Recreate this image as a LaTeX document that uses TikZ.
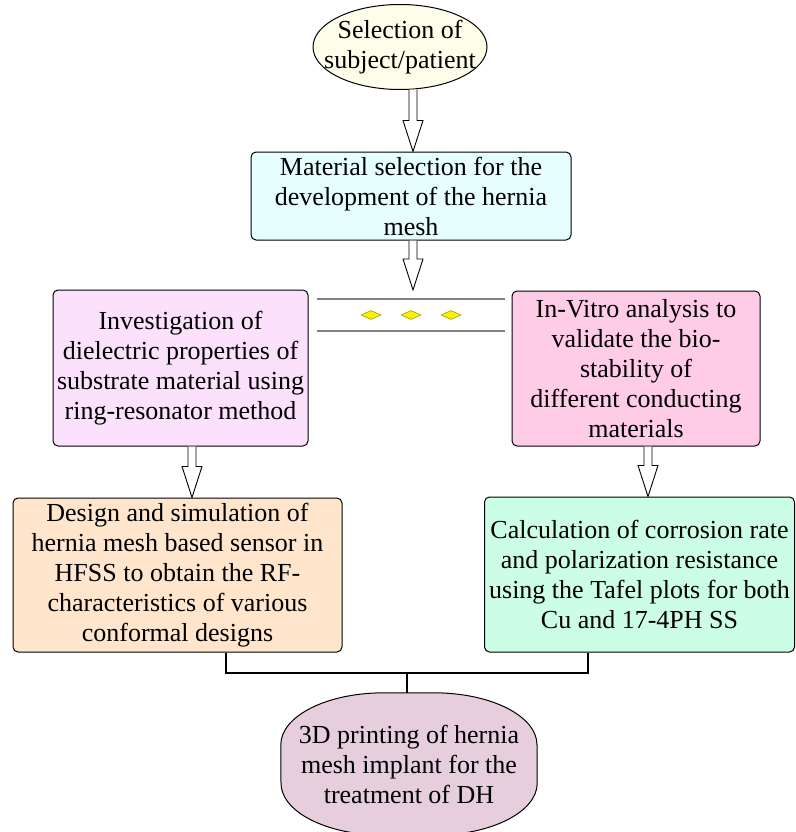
\documentclass[tikz,border=0pt]{standalone}
\usepackage{fontspec}
\setmainfont{Liberation Serif}
\usetikzlibrary{calc}
\usetikzlibrary{shapes.geometric}
\usetikzlibrary{backgrounds}

\definecolor{cream}{HTML}{FEFDEA}
\definecolor{aqua}{HTML}{E6FEFE}
\definecolor{lilac}{HTML}{FCE1FC}
\definecolor{rose}{HTML}{FECCE6}
\definecolor{peach}{HTML}{FEE5CC}
\definecolor{mint}{HTML}{CCFEE6}
\definecolor{mauve}{HTML}{E6CEDD}
\definecolor{olivedge}{HTML}{9A9A10}

\tikzset{
  txt/.style={font=\fontsize{26}{30}\selectfont, align=center},
  box/.style={txt, draw, rounded corners=5pt, inner sep=1pt, line width=1pt},
  blockarr/.style={draw, fill=white, line width=0.9pt, line join=miter},
  link/.style={line width=1.3pt},
  rail/.style={draw=gray, line width=1.4pt},
  gem/.style={diamond, draw=olivedge, fill=yellow, line width=0.6pt,
    minimum width=20pt, minimum height=9pt, inner sep=0pt},
}

% hollow block arrow, shaft from #1 down to the tip at the height of #2
\newcommand{\hollowarrow}[2]{%
  \draw[blockarr] let \p1=(#1), \p2=(#2) in
    (\x1-4pt,\y1) -- (\x1-4pt,\y2+31pt) -- (\x1-10pt,\y2+31pt) -- (\x1,\y2)
    -- (\x1+10pt,\y2+31pt) -- (\x1+4pt,\y2+31pt) -- (\x1+4pt,\y1);}

\begin{document}
\begin{tikzpicture}[x=1pt,y=-1pt]
        \useasboundingbox (0,0) rectangle (795,832);
		\node[txt, inner sep=0pt, minimum width=174pt, minimum height=85pt] (sel) at (400,47)
		  {Selection of\\subject/patient};
		\node[box, fill=aqua, minimum width=320pt, minimum height=88pt] (mat) at (411,196)
		  {Material selection for the\\development of the hernia\\mesh};
		\node[box, fill=lilac, minimum width=255pt, minimum height=156pt] (inv) at (180.5,368)
		  {Investigation of\\dielectric properties of\\substrate material using\\ring-resonator method};
		\node[box, fill=rose, minimum width=248pt, minimum height=155pt] (vit) at (636,368.5)
		  {In-Vitro analysis to\\validate the bio-\\stability of\\different conducting\\materials};
		\node[box, fill=peach, minimum width=329pt, minimum height=154pt] (des) at (177.5,575)
		  {Design and simulation of\\hernia mesh based sensor in\\HFSS to obtain the RF-\\characteristics of various\\conformal designs};
		\node[box, fill=mint, minimum width=310pt, minimum height=155pt] (cal) at (639.5,574.5)
		  {Calculation of corrosion rate\\and polarization resistance\\using the Tafel plots for both\\Cu and 17-4PH SS};
		\node[txt, inner sep=0pt, minimum width=256pt, minimum height=142pt] (prt) at (409,764)
		  {3D printing of hernia\\mesh implant for the\\treatment of DH};
		\begin{scope}[on background layer]
		\draw[fill=cream, line width=1pt] (sel.center) ellipse[x radius=87pt, y radius=42.5pt];
		\draw[fill=mauve, line width=1pt] ([xshift=-25pt]prt.north) -- ([xshift=25pt]prt.north)
		  arc[start angle=90, end angle=0, x radius=103pt, y radius=52pt]
		  -- ([yshift=52pt]prt.south east)
		  arc[start angle=0, end angle=-90, x radius=103pt, y radius=52pt]
		  -- ([xshift=-25pt]prt.south)
		  arc[start angle=-90, end angle=-180, x radius=103pt, y radius=52pt]
		  -- ([yshift=-52pt]prt.north west)
		  arc[start angle=180, end angle=90, x radius=103pt, y radius=52pt] -- cycle;
		\end{scope}
		% gap between the two branches
		\coordinate (G) at (413,290);
		\draw[rail] (317,299) -- (505,299);
		\draw[rail] (317,331) -- (505,331);
		\foreach \x in {371,411,451}
			\node[gem] at (\x,315) {};
		% arrows
		\hollowarrow{[xshift=13pt]sel.south}{mat.north}
		\hollowarrow{[xshift=2pt]mat.south}{G}
		\hollowarrow{[xshift=11.5pt]inv.south}{des.north}
		\hollowarrow{[xshift=12pt]vit.south}{cal.north}
		% join into the last step
		\coordinate (J) at (407,673);
		\draw[link] ([xshift=48.5pt]des.south) |- (J) -| ([xshift=-51.5pt]cal.south);
		\draw[link] (J) -- (prt.north -| J);
\end{tikzpicture}
\end{document}
